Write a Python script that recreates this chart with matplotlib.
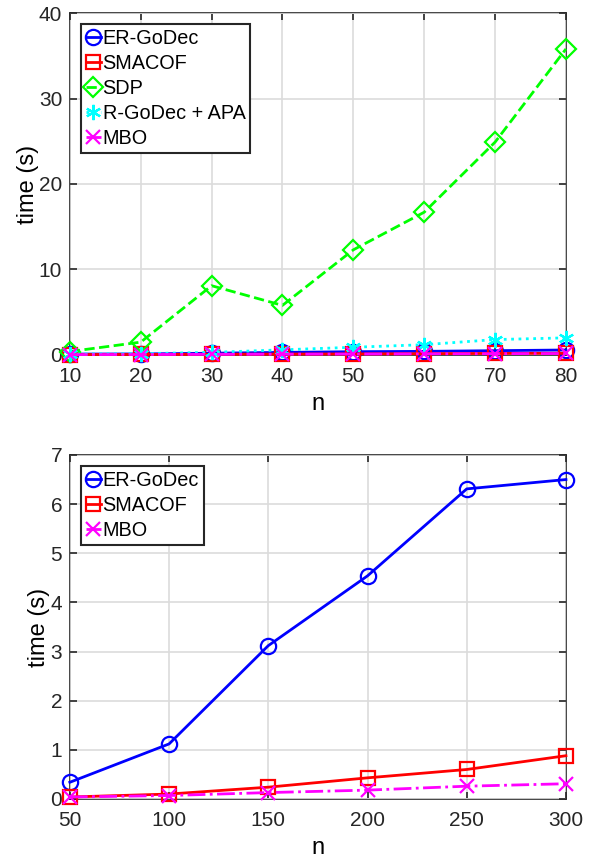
import matplotlib.pyplot as plt

plt.rcParams['font.family'] = ['Liberation Sans', 'DejaVu Sans']

# small problems
n_small = [10, 20, 30, 40, 50, 60, 70, 80]
er_small = [0.10, 0.12, 0.20, 0.30, 0.38, 0.42, 0.50, 0.58]
smacof_small = [0.05, 0.06, 0.08, 0.10, 0.12, 0.15, 0.18, 0.20]
sdp_small = [0.4, 1.5, 8.1, 5.8, 12.3, 16.7, 24.9, 35.8]
apa_small = [0.10, 0.15, 0.30, 0.60, 0.90, 1.20, 1.80, 2.00]
mbo_small = [0.04, 0.05, 0.07, 0.09, 0.11, 0.13, 0.15, 0.17]

# large problems
n_large = [50, 100, 150, 200, 250, 300]
er_large = [0.34, 1.12, 3.12, 4.54, 6.31, 6.50]
smacof_large = [0.04, 0.10, 0.24, 0.43, 0.60, 0.88]
mbo_large = [0.04, 0.07, 0.13, 0.18, 0.26, 0.31]

blue, red, green, cyan, magenta = '#0000ff', '#ff0000', '#00ff00', '#00ffff', '#ff00ff'

fig = plt.figure(figsize=(5.92, 8.63), dpi=100)
ax1 = fig.add_axes([0.118, 0.5887, 0.838, 0.3962])
ax2 = fig.add_axes([0.118, 0.0742, 0.838, 0.3986])

mk = dict(markersize=11, markerfacecolor='none', markeredgewidth=1.6, linewidth=2, clip_on=False)
star = (6, 2, 0)  # asterisk

ax1.plot(n_small, er_small, '-o', color=blue, label='ER-GoDec', **mk)
ax1.plot(n_small, smacof_small, '-s', color=red, label='SMACOF', **{**mk, 'markersize': 10})
ax1.plot(n_small, sdp_small, '--D', color=green, label='SDP', **{**mk, 'markersize': 10})
ax1.plot(n_small, apa_small, ':', marker=star, color=cyan, label='R-GoDec + APA', **mk)
ax1.plot(n_small, mbo_small, '-.x', color=magenta, label='MBO', **{**mk, 'markersize': 10})
ax1.set_xlim(10, 80)
ax1.set_ylim(0, 40)
ax1.set_xticks(n_small)
ax1.set_yticks([0, 10, 20, 30, 40])

ax2.plot(n_large, er_large, '-o', color=blue, label='ER-GoDec', **mk)
ax2.plot(n_large, smacof_large, '-s', color=red, label='SMACOF', **{**mk, 'markersize': 10})
ax2.plot(n_large, mbo_large, '-.x', color=magenta, label='MBO', **{**mk, 'markersize': 10})
ax2.set_xlim(50, 300)
ax2.set_ylim(0, 7)
ax2.set_xticks(n_large)
ax2.set_yticks(range(8))

for ax in (ax1, ax2):
    ax.grid(True, color='#dcdcdc', linewidth=1.2)
    ax.set_axisbelow(True)
    for s in ax.spines.values():
        s.set_color('#262626')
        s.set_linewidth(1.2)
        s.set_zorder(0.5)
    ax.tick_params(direction='in', length=5, width=1.2, colors='#262626',
                   labelsize=15, top=True, right=True, labelcolor='#262626')
    ax.tick_params(axis='x', pad=9)
    ax.tick_params(axis='y', pad=5.5)
    ax.set_xlabel('n', fontsize=17, labelpad=5)
    ax.set_ylabel('time (s)', fontsize=17, labelpad=0)
    leg = ax.legend(loc='upper left', fontsize=14.3, handlelength=0.75, handletextpad=0.1,
                    borderpad=0.25, labelspacing=0.3, borderaxespad=0.55,
                    fancybox=False, framealpha=1)
    leg.get_frame().set_edgecolor('#262626')
    leg.get_frame().set_linewidth(1.5)
    leg.set_zorder(5)

fig.savefig('out.png', dpi=100)
